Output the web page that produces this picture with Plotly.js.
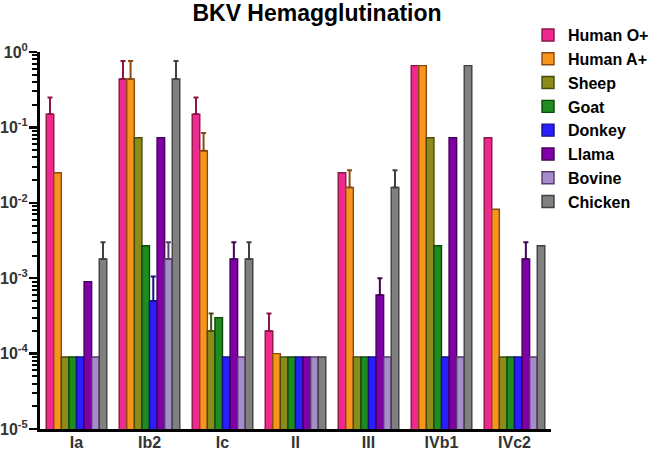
<!DOCTYPE html>
<html>
<head>
<meta charset="utf-8">
<script src="https://cdn.plot.ly/plotly-3.0.1.min.js"></script>
<style>html,body{margin:0;padding:0;background:#fff;}#chart{width:666px;height:451px;}</style>
</head>
<body>
<div id="chart"></div>
<script>
// Categories (virus genotypes)
var categories = ["Ia", "Ib2", "Ic", "II", "III", "IVb1", "IVc2"];

// Series names
var seriesNames = ["Human O+", "Human A+", "Sheep", "Goat", "Donkey", "Llama", "Bovine", "Chicken"];

// Bar values (hemagglutination titer fraction), per series
var humanO   = [0.15,   0.44,   0.15,   0.0002, 0.025,  0.66,   0.073];
var humanA   = [0.025,  0.44,   0.049,  0.0001, 0.016,  0.66,   0.0082];
var sheep    = [0.00009, 0.073, 0.0002, 0.00009, 0.00009, 0.073, 0.00009];
var goat     = [0.00009, 0.0027, 0.0003, 0.00009, 0.00009, 0.0027, 0.00009];
var donkey   = [0.00009, 0.0005, 0.00009, 0.00009, 0.00009, 0.00009, 0.00009];
var llama    = [0.0009, 0.073,  0.0018, 0.00009, 0.0006, 0.073,  0.0018];
var bovine   = [0.00009, 0.0018, 0.00009, 0.00009, 0.00009, 0.00009, 0.00009];
var chicken  = [0.0018, 0.44,   0.0018, 0.00009, 0.016,  0.66,   0.0027];

// Upper end of the error bars (null = no error bar)
var humanOErr  = [0.25, 0.76, 0.25, 0.00034, null, null, null];
var humanAErr  = [null, 0.76, 0.084, null, 0.027, null, null];
var sheepErr   = [null, null, 0.00034, null, null, null, null];
var goatErr    = [null, null, null, null, null, null, null];
var donkeyErr  = [null, 0.00105, null, null, null, null, null];
var llamaErr   = [null, null, 0.003, null, 0.001, null, 0.003];
var bovineErr  = [null, 0.003, null, null, null, null, null];
var chickenErr = [0.003, 0.76, 0.003, null, 0.027, null, null];

// Y-axis ticks
var yTickVals = [1e-5, 1e-4, 1e-3, 1e-2, 1e-1, 1];
var yTickText = ["10<sup>-5</sup>", "10<sup>-4</sup>", "10<sup>-3</sup>", "10<sup>-2</sup>", "10<sup>-1</sup>", "10<sup>0</sup>"];

var fills = ["#EE2A8E", "#F7941E", "#8C8C1A", "#1E8C1E", "#2A1EFF", "#8000A8", "#A58CCB", "#808080"];
var edges = ["#8B1548", "#8B4A0F", "#4A4A0A", "#0A4A0A", "#10108A", "#45005A", "#5A3A6A", "#404040"];

var values = [humanO, humanA, sheep, goat, donkey, llama, bovine, chicken];
var errs = [humanOErr, humanAErr, sheepErr, goatErr, donkeyErr, llamaErr, bovineErr, chickenErr];

var traces = seriesNames.map(function (name, i) {
  var v = values[i];
  var e = errs[i];
  var plus = v.map(function (val, j) { return e[j] == null ? NaN : e[j] - val; });
  var minus = v.map(function (val, j) { return e[j] == null ? NaN : 0; });
  return {
    type: "bar",
    name: name,
    x: categories,
    y: v,
    marker: {color: fills[i], line: {color: edges[i], width: 1.4}},
    error_y: {
      type: "data", symmetric: false, array: plus, arrayminus: minus,
      color: edges[i], thickness: 2, width: 2.5, visible: true
    },
    hoverinfo: "x+y+name"
  };
});

// minor ticks 2..9 per decade
var minorVals = [];
for (var d = -5; d < 0; d++) {
  for (var k = 2; k <= 9; k++) minorVals.push(k * Math.pow(10, d));
}

var FONT = "Liberation Sans, Arial, sans-serif";

var layout = {
  width: 666, height: 451,
  margin: {l: 40, r: 110, t: 52, b: 22},
  paper_bgcolor: "#fff", plot_bgcolor: "#fff",
  barmode: "group", bargap: 0.17, bargroupgap: 0,
  font: {family: FONT, color: "#333"},
  title: {
    text: "<b>BKV Hemagglutination</b>",
    font: {size: 23, color: "#000", family: FONT},
    x: 0.476, xref: "container", xanchor: "center",
    y: 0.972, yref: "container", yanchor: "middle"
  },
  xaxis: {
    type: "category",
    showline: true, linecolor: "#000", linewidth: 3,
    ticks: "", showgrid: false, zeroline: false,
    ticklabelstandoff: -3,
    tickfont: {size: 16, color: "#333", family: FONT, weight: "bold"},
    automargin: false
  },
  yaxis: {
    type: "log", range: [-5, 0],
    showline: true, linecolor: "#000", linewidth: 3,
    ticks: "outside", ticklen: 8, tickwidth: 2.5, tickcolor: "#000",
    tickvals: yTickVals, ticktext: yTickText,
    ticklabelstandoff: -2,
    tickfont: {size: 16, color: "#333", family: FONT, weight: "bold"},
    showgrid: false, zeroline: false, automargin: false,
    minor: {tickvals: minorVals, ticks: "outside", ticklen: 5, tickwidth: 2, tickcolor: "#000", showgrid: false}
  },
  legend: {
    x: 0.955, xanchor: "left", y: 1.09, yanchor: "top",
    font: {size: 16, color: "#000", family: FONT, weight: "bold"},
    bgcolor: "rgba(0,0,0,0)", tracegroupgap: 0, itemclick: false
  },
  showlegend: true
};

Plotly.newPlot("chart", traces, layout, {displayModeBar: false, staticPlot: true});
</script>
</body>
</html>
